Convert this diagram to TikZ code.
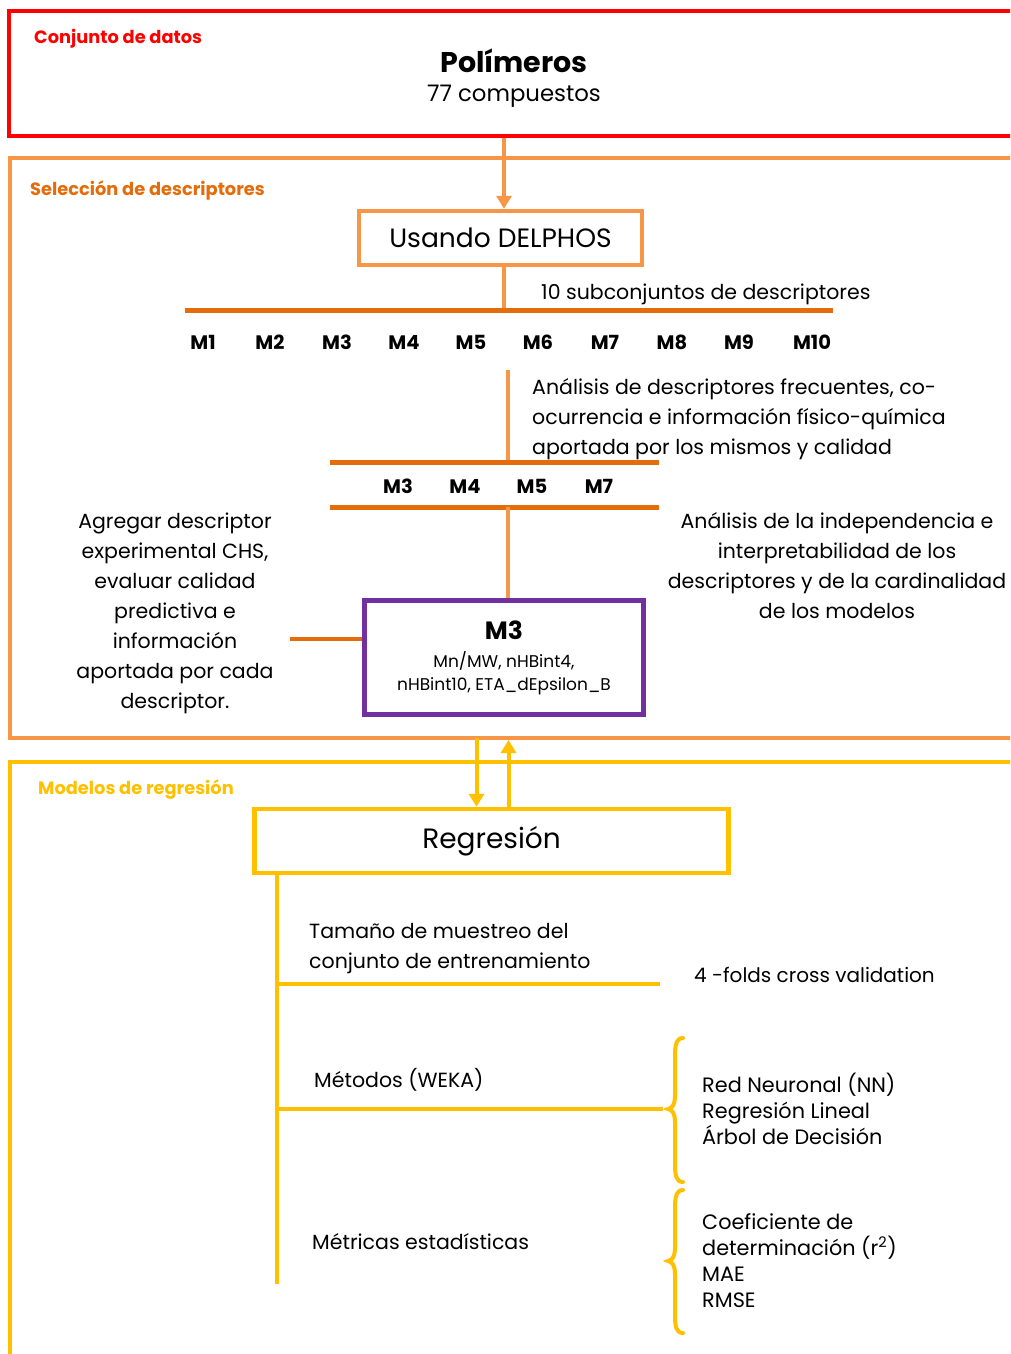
\documentclass[tikz,border=0pt]{standalone}
\usepackage{fontspec}
\setmainfont{Poppins}
\usetikzlibrary{arrows.meta}

\definecolor{cred}{HTML}{FF0000}
\definecolor{corange}{HTML}{F79646}
\definecolor{cdark}{HTML}{E46C0A}
\definecolor{cyellow}{HTML}{FFC000}
\definecolor{cpurple}{HTML}{7030A0}

\newcommand{\fs}[2]{\fontsize{#1}{#2}\selectfont}

\tikzset{
  frame/.style={line width=4.5pt},
  box/.style={draw, line width=4.5pt, fill=white, inner sep=0pt},
  bar/.style={draw=cdark, line width=5pt},
  link/.style={line width=3.5pt},
  yline/.style={line width=4pt, draw=cyellow},
  arr/.style={line width=4pt, -{Triangle[length=13pt,width=15pt]}},
  sectlabel/.style={font=\fs{17.8}{20}\bfseries, anchor=base west, inner sep=0pt},
  txt/.style={font=\fs{20.5}{30}, anchor=base west, inner sep=0pt},
  ptxt/.style={font=\fs{20.5}{30}, align=left, anchor=north west, inner sep=0pt},
  ctxt/.style={font=\fs{20.5}{30}, align=center, anchor=north, inner sep=0pt},
  ltxt/.style={font=\fs{20.8}{26}, align=left, anchor=north west, inner sep=0pt},
  mlab/.style={font=\fs{19.5}{20}\bfseries, anchor=base, inner sep=0pt},
}

\begin{document}
\begin{tikzpicture}[x=1pt, y=-1pt]
\useasboundingbox (0,0) rectangle (1010,1354);
\clip (0,0) rectangle (1010,1354);

% ---------- Data set ----------
\draw[frame, draw=cred] (9,11) -- (1020,11) -- (1020,136) -- (9,136) -- cycle;
\node[sectlabel, text=cred] (lbldata) at (34,44) {Conjunto de datos};
\node[font=\fs{28.5}{30}\bfseries, anchor=base, inner sep=0pt] (poly) at (514,72) {Polímeros};
\node[font=\fs{22.8}{24}, anchor=base, inner sep=0pt] (ncomp) at (514,101) {77 compuestos};
\coordinate (dataout) at (504,138);

% ---------- Descriptor selection ----------
\draw[frame, draw=corange] (10,158) -- (1020,158) -- (1020,738) -- (10,738) -- cycle;
\node[sectlabel, text=cdark] (lblsel) at (30,195) {Selección de descriptores};

\node[box, draw=corange, minimum width=283pt, minimum height=54pt, font=\fs{26.5}{28}] (delphos) at (500.5,238) {Usando DELPHOS};
\draw[arr, draw=corange] (dataout) -- (delphos.north -| dataout);

\coordinate (bar1L) at (185,310);
\coordinate (bar1R) at (833,310);
\coordinate (bar1J) at (504,310);
\draw[link, draw=corange] (delphos.south -| bar1J) -- (bar1J);
\draw[bar] (bar1L) -- (bar1R);
\node[txt] (nsub) at (541,299) {10 subconjuntos de descriptores};

\foreach \i/\x in {1/203,2/270,3/337,4/404,5/471,6/538,7/605,8/672,9/739}
  \node[mlab] (m\i) at (\x,349) {M\i};
\node[mlab] (m10) at (812,349) {M10};

% first filtering step
\coordinate (f1top) at (508,370);
\coordinate (bar2L) at (330,462);
\coordinate (bar2R) at (659,462);
\draw[link, draw=corange] (f1top) -- (f1top |- bar2L);
\draw[bar] (bar2L) -- (bar2R);
\node[ptxt] (freq) at (532,378)
  {Análisis de descriptores frecuentes, co-\\ocurrencia e información físico-química\\aportada por los mismos y calidad};

\node[mlab] (s3) at (398,493) {M3};
\node[mlab] (s4) at (465,493) {M4};
\node[mlab] (s5) at (532,493) {M5};
\node[mlab] (s7) at (599,493) {M7};

\coordinate (bar3L) at (330,507);
\coordinate (bar3R) at (659,507);
\draw[bar] (bar3L) -- (bar3R);

% selected model
\node[box, draw=cpurple, minimum width=279pt, minimum height=114pt] (m3box) at (504,657.5) {};
\node[font=\fs{25}{26}\bfseries, anchor=base, inner sep=0pt] (m3t) at (504,639) {M3};
\node[font=\fs{17}{23.5}, align=center, anchor=north, inner sep=0pt] (m3d) at (504,651)
  {Mn/MW, nHBint4,\\nHBint10, ETA\_dEpsilon\_B};
\draw[link, draw=corange] (508,507) -- (m3box.north -| 508,0);

\coordinate (chsend) at (290,639);
\draw[line width=4pt, draw=cdark] (chsend) -- (chsend -| m3box.west);
\node[ctxt] (chs) at (175,513)
  {Agregar descriptor\\experimental CHS,\\evaluar calidad\\predictiva e\\información\\aportada por cada\\descriptor.};
\node[ctxt] (indep) at (837,512)
  {Análisis de la independencia e\\interpretabilidad de los\\descriptores y de la cardinalidad\\de los modelos};

% ---------- Regression models ----------
\draw[frame, draw=cyellow] (10,1370) -- (10,762) -- (1020,762);
\node[sectlabel, text=cyellow] (lblreg) at (38,794) {Modelos de regresión};

\node[box, draw=cyellow, minimum width=474pt, minimum height=64pt, font=\fs{28}{30}] (regr) at (491.5,841) {Regresión};
\draw[arr, draw=cyellow] (476.5,738) -- (regr.north -| 476.5,0);
\draw[arr, draw=cyellow] (regr.north -| 508.5,0) -- (508.5,740);

\coordinate (trunkB) at (276.5,1284);
\draw[yline] (regr.south -| trunkB) -- (trunkB);
\coordinate (brA) at (660,984);
\coordinate (brB) at (663,1109);
\draw[yline] (trunkB |- brA) -- (brA);
\draw[yline] (trunkB |- brB) -- (brB);

\node[ptxt] (tam) at (309,923)
  {Tamaño de muestreo del\\conjunto de entrenamiento};
\node[txt, font=\fs{20}{30}] (cv) at (694,982) {4 -folds cross validation};
\node[txt] (met) at (314,1087) {Métodos (WEKA)};
\node[txt] (metr) at (312,1249) {Métricas estadísticas};

% braces
\draw[yline, line cap=round]
  (683,1038) .. controls (676,1038) and (675,1046) .. (675,1056) -- (675,1095)
  .. controls (675,1104) and (673,1108) .. (668,1109)
  .. controls (673,1110) and (675,1114) .. (675,1123) -- (675,1164)
  .. controls (675,1175) and (676,1182) .. (683,1182);
\draw[yline, line cap=round]
  (683,1190) .. controls (676,1190) and (675,1198) .. (675,1208) -- (675,1247)
  .. controls (675,1256) and (673,1260) .. (668,1261)
  .. controls (673,1262) and (675,1266) .. (675,1275) -- (675,1315)
  .. controls (675,1326) and (676,1333) .. (683,1333);

\node[ltxt] (meths) at (702,1073)
  {Red Neuronal (NN)\\Regresión Lineal\\Árbol de Decisión};
\node[ltxt] (metrics) at (702,1213)
  {Coeficiente de\\determinación (r\textsuperscript{2})\\MAE\\RMSE};
\end{tikzpicture}
\end{document}
